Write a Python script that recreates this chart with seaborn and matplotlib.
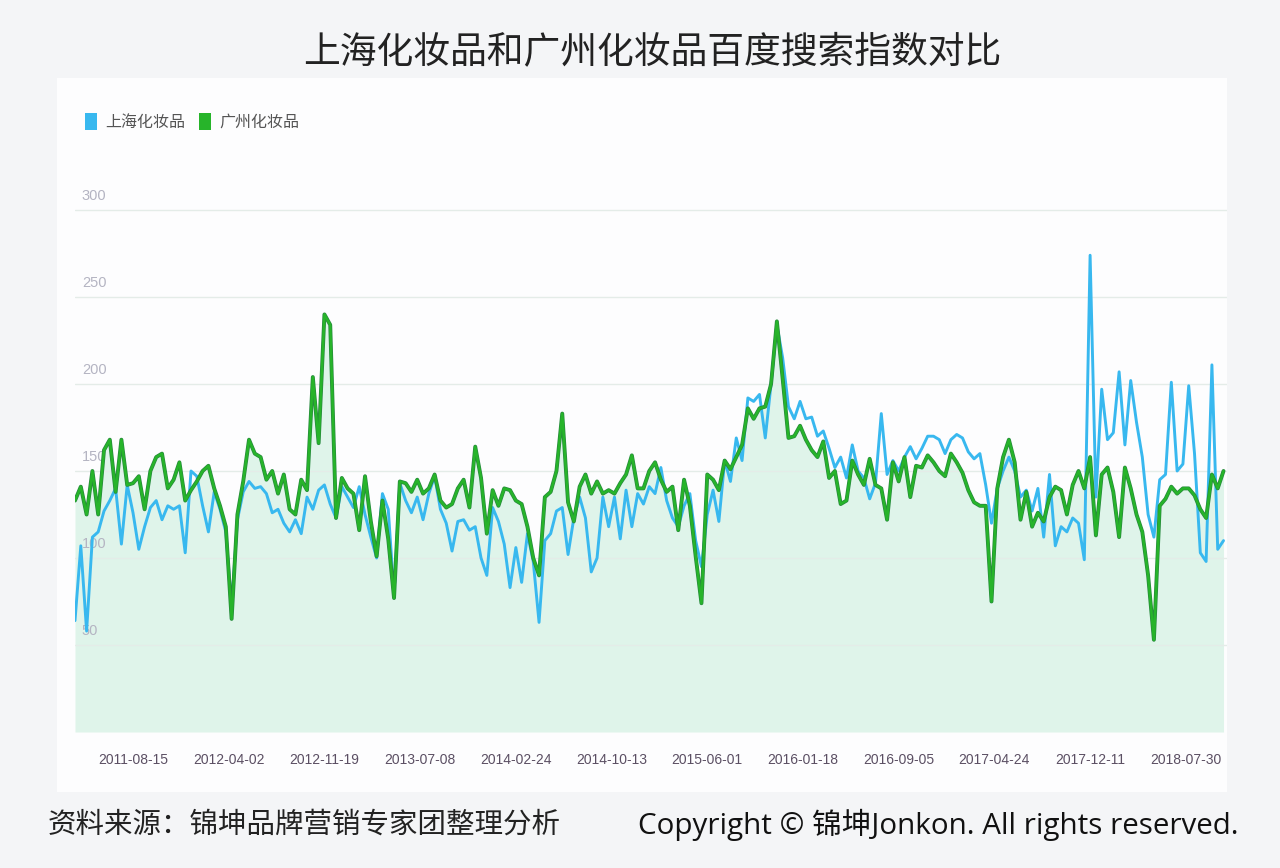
import matplotlib
matplotlib.use("Agg")
import matplotlib.pyplot as plt
import matplotlib.patheffects as pe
from matplotlib.patches import Patch, Rectangle
from matplotlib.transforms import ScaledTranslation
import seaborn as sns
import pandas as pd

# Baidu search index, sampled every two weeks from 2011-03-28
shanghai = [
    64, 107, 58, 112, 115, 127, 133, 140, 108, 142,
    126, 105, 118, 129, 133, 122, 130, 128, 130, 103,
    150, 147, 130, 115, 138, 128, 115, 72, 122, 138,
    144, 140, 141, 137, 126, 128, 120, 115, 122, 114,
    135, 128, 139, 142, 131, 123, 141, 135, 129, 141,
    125, 112, 100, 137, 128, 79, 143, 133, 126, 135,
    122, 137, 147, 128, 120, 104, 121, 122, 116, 118,
    100, 90, 129, 121, 108, 83, 106, 86, 114, 98,
    63, 110, 114, 127, 129, 102, 123, 135, 123, 92,
    100, 135, 118, 135, 111, 139, 118, 137, 131, 141,
    137, 152, 133, 123, 118, 130, 137, 110, 95, 125,
    139, 121, 156, 144, 169, 156, 192, 190, 194, 169,
    200, 234, 215, 187, 180, 190, 180, 181, 170, 173,
    163, 152, 158, 146, 165, 150, 146, 134, 143, 183,
    148, 156, 150, 158, 164, 157, 163, 170, 170, 168,
    160, 168, 171, 169, 161, 157, 160, 142, 120, 140,
    150, 158, 150, 135, 139, 127, 140, 112, 148, 107,
    118, 115, 123, 120, 99, 274, 135, 197, 168, 172,
    207, 165, 202, 178, 158, 125, 112, 145, 148, 201,
    150, 154, 199, 160, 103, 98, 211, 105, 110,
]
guangzhou = [
    133, 141, 125, 150, 125, 162, 168, 138, 168, 142,
    143, 147, 128, 150, 158, 160, 140, 145, 155, 133,
    139, 144, 150, 153, 140, 130, 118, 65, 125, 144,
    168, 160, 158, 145, 150, 137, 148, 128, 125, 145,
    139, 204, 166, 240, 234, 123, 146, 140, 137, 116,
    147, 121, 101, 133, 111, 77, 144, 143, 138, 145,
    137, 140, 148, 133, 129, 131, 140, 145, 129, 164,
    146, 114, 139, 130, 140, 139, 133, 131, 118, 100,
    90, 135, 138, 150, 183, 132, 121, 141, 148, 137,
    144, 137, 139, 137, 143, 148, 159, 140, 140, 150,
    155, 145, 138, 141, 116, 145, 130, 101, 74, 148,
    145, 139, 156, 151, 158, 165, 186, 180, 186, 187,
    200, 236, 203, 169, 170, 176, 168, 162, 158, 167,
    146, 150, 131, 133, 156, 148, 142, 157, 142, 140,
    122, 155, 144, 158, 135, 153, 152, 159, 155, 150,
    147, 160, 155, 149, 139, 132, 130, 130, 75, 140,
    158, 168, 155, 122, 138, 118, 126, 121, 135, 141,
    139, 125, 142, 150, 140, 158, 113, 148, 152, 138,
    112, 152, 140, 125, 115, 90, 53, 130, 134, 141,
    137, 140, 140, 136, 128, 123, 148, 140, 150,
]
tick_labels = ["2011-08-15", "2012-04-02", "2012-11-19", "2013-07-08",
               "2014-02-24", "2014-10-13", "2015-06-01", "2016-01-18",
               "2016-09-05", "2017-04-24", "2017-12-11", "2018-07-30"]
y_ticks = [50, 100, 150, 200, 250, 300]
series_names = ["上海化妆品", "广州化妆品"]

blue = "#38b8ef"
green = "#27b42a"

dates = pd.date_range("2011-03-28", periods=len(shanghai), freq="14D")
df = pd.DataFrame({"date": dates, "sh": shanghai, "gz": guangzhou})

sns.set_theme(style="white")
cjk = ["Noto Sans CJK SC", "DejaVu Sans"]
plt.rcParams["font.family"] = cjk

fig = plt.figure(figsize=(12.8, 8.68), dpi=100, facecolor="#f4f5f7")
fig.patches.append(Rectangle((57 / 1280, 1 - 792 / 868), 1170 / 1280, 714 / 868,
                             transform=fig.transFigure, facecolor="#fdfdfe",
                             edgecolor="none", zorder=-5))

ax = fig.add_axes([75 / 1280, 1 - 732 / 868, 1152 / 1280, 542 / 868])
ax.set_facecolor("none")
ax.set_axisbelow("line")

ax.fill_between(df["date"], df["gz"], 0, color="#dff4ea", lw=0, zorder=1)
sns.lineplot(data=df, x="date", y="sh", color=blue, lw=2.1, ax=ax, zorder=3)
sns.lineplot(data=df, x="date", y="gz", color=green, lw=1.8, ax=ax, zorder=4,
             path_effects=[pe.Stroke(linewidth=2.8, foreground="#268a3c"), pe.Normal()])

ax.set_xlim(dates[0], dates[0] + pd.Timedelta(days=14 * 198.6))
ax.set_ylim(0, 311.5)
ax.set_xlabel("")
ax.set_ylabel("")
for s in ax.spines.values():
    s.set_visible(False)

narrow = ["Liberation Sans", "DejaVu Sans"]
ax.set_xticks(pd.to_datetime(tick_labels))
ax.set_xticklabels(tick_labels, family=narrow, fontsize=10, color="#5b4f63")
ax.set_yticks(y_ticks)
ax.set_yticklabels([str(v) for v in y_ticks], family=narrow,
                   fontsize=10.5, color="#b4b4c2")
ax.tick_params(axis="x", length=0, pad=15)
ax.tick_params(axis="y", length=0, pad=-5)
off = ScaledTranslation(0, 5 / 72, fig.dpi_scale_trans)
for lab in ax.get_yticklabels():
    lab.set_ha("left")
    lab.set_va("bottom")
    lab.set_transform(lab.get_transform() + off)
ax.grid(axis="y", color="#e4ece8", lw=1)
ax.grid(axis="x", visible=False)

handles = [Patch(facecolor=blue, edgecolor="none"), Patch(facecolor=green, edgecolor="none")]
fig.legend(handles, series_names, loc="upper left", bbox_to_anchor=(77 / 1280, 1 - 105 / 868),
           ncol=2, frameon=False, fontsize=11.5, handlelength=0.75, handleheight=1.3,
           handletextpad=0.5, columnspacing=0.9, borderpad=0, labelcolor="#555555")

fig.text(652 / 1280, 1 - 52 / 868, "上海化妆品和广州化妆品百度搜索指数对比",
         ha="center", va="center", fontsize=26.5, color="#222222")
fig.text(48 / 1280, 1 - 825 / 868, "资料来源：锦坤品牌营销专家团整理分析",
         ha="left", va="center", fontsize=20.5, color="#222222")
fig.text(1238 / 1280, 1 - 825 / 868, "Copyright © 锦坤Jonkon. All rights reserved.",
         ha="right", va="center", fontsize=21.3, color="#111111",
         family=["Open Sans", "Noto Sans CJK SC"])

fig.savefig("out.png", dpi=100, facecolor=fig.get_facecolor())
